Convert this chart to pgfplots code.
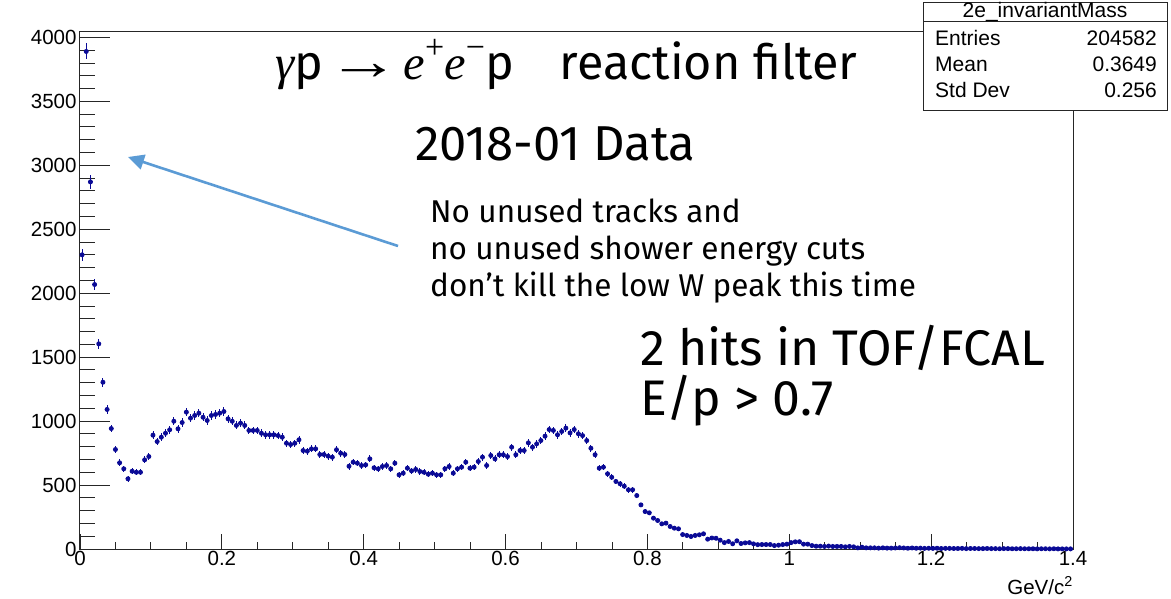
\documentclass[border=0pt]{standalone}
\usepackage{pgfplots}
\pgfplotsset{compat=1.18}
\usepackage{pgfplotstable}
\usepackage{graphicx}
\usetikzlibrary{arrows.meta}
\usepackage{fontspec}
\setmainfont{Fira Sans}
\newfontfamily\helv{Liberation Sans}
\newfontfamily\tms{Liberation Serif}
\definecolor{histblue}{RGB}{10,10,150}
\definecolor{arrowblue}{RGB}{91,155,213}

\pgfplotstableread{
i y
0 2300
1 3890
2 2870
3 2068
4 1604
5 1304
6 1091
7 942
8 778
9 674
10 627
11 549
12 608
13 600
14 600
15 697
16 723
17 890
18 840
19 874
20 905
21 932
22 999
23 940
24 989
25 1070
26 1023
27 1044
28 1062
29 1030
30 1005
31 1044
32 1052
33 1062
34 1075
35 1018
36 999
37 966
38 984
39 966
40 927
41 927
42 927
43 905
44 893
45 893
46 893
47 887
48 874
49 827
50 817
51 827
52 854
53 770
54 765
55 783
56 783
57 739
58 739
59 726
60 718
61 776
62 749
63 739
64 647
65 679
66 671
67 653
68 658
69 705
70 635
71 627
72 645
73 653
74 627
75 671
76 580
77 593
78 632
79 611
80 622
81 606
82 600
83 585
84 593
85 580
86 580
87 627
88 645
89 593
90 627
91 640
92 679
93 632
94 640
95 684
96 718
97 653
98 731
99 705
100 737
101 737
102 723
103 796
104 737
105 770
106 770
107 830
108 796
109 822
110 848
111 882
112 934
113 927
114 893
115 919
116 945
117 908
118 934
119 901
120 887
121 848
122 788
123 737
124 632
125 640
126 588
127 561
128 528
129 510
130 491
131 463
132 463
133 418
134 345
135 293
136 283
137 241
138 223
139 197
140 202
141 176
142 163
143 158
144 113
145 106
146 98
147 106
148 111
149 119
150 77
151 86
152 84
153 69
154 50
155 59
156 41
157 64
158 43
159 48
160 50
161 40
162 34
163 35
164 35
165 35
166 27
167 30
168 35
169 38
170 50
171 56
172 57
173 38
174 38
175 27
176 22
177 22
178 20
179 23
180 20
181 20
182 20
183 17
184 20
185 17
186 9
187 14
188 9
189 9
190 9
191 7
192 9
193 7
194 7
195 8
196 10
197 8
198 6
199 8
200 6
201 7
202 5
203 6
204 5
205 6
206 4
207 5
208 5
209 4
210 4
211 5
212 3
213 4
214 4
215 3
216 3
217 4
218 3
219 3
220 2
221 3
222 3
223 2
224 2
225 3
226 2
227 2
228 2
229 1
230 2
231 2
232 1
233 2
234 1
235 1
236 1
237 1
}\histdata

\newcommand{\supr}[1]{\raisebox{0.42em}{\fontsize{34}{34}\selectfont #1}}

\begin{document}
\begin{tikzpicture}
\path[use as bounding box] (0pt,0pt) rectangle (1171pt,-598pt);
\begin{axis}[
  at={(80pt,-549pt)}, anchor=south west,
  scale only axis, width=993pt, height=518pt,
  xmin=0, xmax=1.4, ymin=0, ymax=4050,
  xtick={0,0.2,0.4,0.6,0.8,1,1.2,1.4},
  xticklabels={0,0.2,0.4,0.6,0.8,1,1.2,1.4},
  ytick={0,500,1000,1500,2000,2500,3000,3500,4000},
  yticklabels={0,500,1000,1500,2000,2500,3000,3500,4000},
  minor x tick num=3, minor y tick num=4,
  tick align=inside, tick pos=left,
  axis line style={line width=1pt, draw=black!85},
  tick style={line width=0.9pt, draw=black!85},
  x tick style={/pgfplots/major tick length=15pt, /pgfplots/minor tick length=7.5pt},
  y tick style={/pgfplots/major tick length=30pt, /pgfplots/minor tick length=15pt},
  ticklabel style={font=\helv\fontsize{20.5}{24}\selectfont},
  xticklabel style={yshift=1pt},
]
\addplot[histblue, line width=0.9pt, only marks, mark=none,
  error bars/.cd, x dir=both, x fixed=0.00300, y dir=both, y explicit,
  error mark=none, error bar style={line width=0.9pt, histblue}]
  table[x expr=(\thisrow{i}+0.5)*0.00588, y=y, y error expr=sqrt(\thisrow{y})] {\histdata};
\end{axis}

% x-axis title
\node[anchor=base east, font=\helv\fontsize{20.5}{24}\selectfont, inner sep=0pt] at (1073pt,-594pt) {GeV/c\textsuperscript{2}};

% arrow
\draw[arrowblue, line width=2.6pt, -{Triangle[length=16pt,width=15pt]}] (398pt,-246pt) -- (128pt,-157pt);

% annotations
\node[anchor=base west, inner sep=0pt, font=\fontsize{48.5}{56}\selectfont] at (275pt,-79pt)
  {{\tms\itshape γ}p\hspace{0.08em}\scalebox{1.5}[1.1]{\tms →}\hspace{0.08em}{\tms\itshape e}\supr{\tms +}{\tms\itshape e}\supr{\tms −}p\hspace{0.95em}reaction filter};
\node[anchor=base west, inner sep=0pt, font=\fontsize{49}{56}\selectfont] at (415pt,-160pt) {2018-01 Data};
\node[anchor=base west, inner sep=0pt, font=\fontsize{31.5}{36}\selectfont] at (430pt,-222pt) {No unused tracks and};
\node[anchor=base west, inner sep=0pt, font=\fontsize{31.5}{36}\selectfont] at (430pt,-259pt) {no unused shower energy cuts};
\node[anchor=base west, inner sep=0pt, font=\fontsize{31.5}{36}\selectfont] at (430pt,-296pt) {don’t kill the low W peak this time};
\node[anchor=base west, inner sep=0pt, font=\fontsize{50}{60}\selectfont] at (640pt,-365pt) {2 hits in TOF/FCAL};
\node[anchor=base west, inner sep=0pt, font=\fontsize{50}{60}\selectfont] at (640pt,-415pt) {E/p > 0.7};

% stats box
\draw[fill=white, line width=1pt, draw=black!85] (923pt,-2pt) rectangle (1167pt,-110pt);
\draw[line width=1pt, draw=black!85] (923pt,-21pt) -- (1167pt,-21pt);
\begin{scope}[every node/.style={inner sep=0pt, font=\helv\fontsize{21}{24}\selectfont}]
\node[anchor=base] at (1045pt,-17pt) {2e\_invariantMass};
\node[anchor=base west] at (935pt,-45pt) {Entries};
\node[anchor=base east] at (1157pt,-45pt) {204582};
\node[anchor=base west] at (935pt,-71pt) {Mean};
\node[anchor=base east] at (1157pt,-71pt) {0.3649};
\node[anchor=base west] at (935pt,-97pt) {Std Dev};
\node[anchor=base east] at (1157pt,-97pt) {0.256};
\end{scope}
\end{tikzpicture}
\end{document}
